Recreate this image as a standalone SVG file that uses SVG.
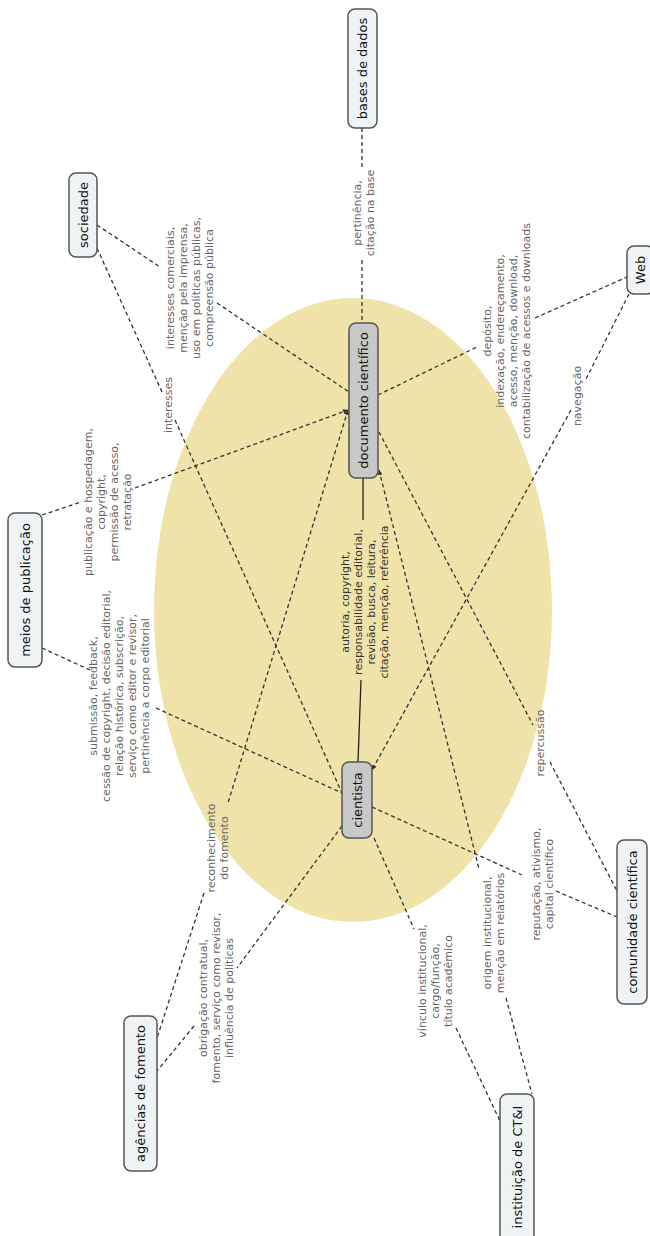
<svg xmlns="http://www.w3.org/2000/svg" width="650" height="1236" viewBox="0 0 650 1236">
<defs>
<marker id="ah" viewBox="0 0 6 6" refX="6" refY="3" markerWidth="5" markerHeight="5" orient="auto-start-reverse" markerUnits="userSpaceOnUse">
<path d="M0,0 L6,3 L0,6 z" fill="#333"/>
</marker>
<style>
.node rect{stroke:#555;stroke-width:1.5}
.outer rect{fill:#eef4f6}
.inner rect{fill:#c8c8c8}
.node text{font-family:"DejaVu Sans","Liberation Sans",sans-serif;font-size:13px;fill:#111;text-anchor:middle}
.lbl{font-family:"DejaVu Sans","Liberation Sans",sans-serif;font-size:11px;fill:#666;text-anchor:middle}
.lbl.c{fill:#333}
.e{fill:none;stroke:#333;stroke-width:1.3;stroke-dasharray:4 3}
.s{fill:none;stroke:#222;stroke-width:1.3}
</style>
</defs>
<rect width="650" height="1236" fill="#fff"/>
<ellipse cx="353" cy="610" rx="199" ry="312" fill="#efe3aa"/>

<g id="connectors">
<!-- bases -> documento -->
<line class="e" x1="362" y1="128" x2="362" y2="167"/>
<line class="e" x1="362" y1="260" x2="362" y2="323"/>
<!-- sociedade -> documento -->
<line class="e" x1="97" y1="225" x2="160" y2="267"/>
<line class="e" x1="217" y1="303" x2="349" y2="392"/>
<!-- sociedade -> cientista -->
<line class="e" x1="97" y1="248" x2="162" y2="392"/>
<line class="e" x1="175" y1="420" x2="342" y2="793"/>
<!-- documento -> Web -->
<line class="e" x1="378" y1="395" x2="477" y2="347"/>
<line class="e" x1="535" y1="318" x2="627" y2="277"/>
<!-- Web -> cientista -->
<line class="e" x1="629" y1="294" x2="585" y2="381"/>
<line class="e" x1="571" y1="410" x2="372" y2="770" marker-end="url(#ah)"/>
<!-- meios -> documento -->
<line class="e" x1="42" y1="515" x2="81" y2="502"/>
<line class="e" x1="135" y1="488" x2="348" y2="410" marker-end="url(#ah)"/>
<!-- meios -> cientista -->
<line class="e" x1="42" y1="648" x2="90" y2="670"/>
<line class="e" x1="156" y1="708" x2="342" y2="793"/>
<!-- documento - cientista -->
<line class="s" x1="363" y1="478" x2="363" y2="520"/>
<line class="s" x1="361" y1="680" x2="358" y2="762"/>
<!-- documento -> agencias (reconhecimento) -->
<line class="e" x1="348" y1="410" x2="228" y2="803" marker-start="url(#ah)"/>
<line class="e" x1="204" y1="893" x2="157" y2="1038"/>
<!-- cientista -> agencias -->
<line class="e" x1="342" y1="826" x2="237" y2="968"/>
<line class="e" x1="194" y1="1026" x2="157" y2="1071"/>
<!-- cientista -> instituicao -->
<line class="e" x1="374" y1="838" x2="414" y2="929"/>
<line class="e" x1="456" y1="1028" x2="500" y2="1121"/>
<!-- documento -> instituicao -->
<line class="e" x1="379" y1="470" x2="479" y2="869" marker-start="url(#ah)"/>
<line class="e" x1="506" y1="998" x2="532" y2="1094"/>
<!-- documento -> comunidade -->
<line class="e" x1="379" y1="432" x2="533" y2="725"/>
<line class="e" x1="550" y1="762" x2="617" y2="891"/>
<!-- cientista -> comunidade -->
<line class="e" x1="372" y1="807" x2="522" y2="875"/>
<line class="e" x1="556" y1="891" x2="617" y2="917"/>
</g>

<g id="labels">
<text class="lbl" transform="translate(363,213) rotate(-90)"><tspan x="0" y="-2.5">pertinência,</tspan><tspan x="0" y="10.5">citação na base</tspan></text>
<text class="lbl" transform="translate(189,288) rotate(-90)"><tspan x="0" y="-15.5">interesses comerciais,</tspan><tspan x="0" y="-2.5">menção pela imprensa,</tspan><tspan x="0" y="10.5">uso em políticas públicas,</tspan><tspan x="0" y="23.5">compreensão pública</tspan></text>
<text class="lbl" transform="translate(168,405) rotate(-90)"><tspan x="0" y="4">interesses</tspan></text>
<text class="lbl" transform="translate(506,331) rotate(-90)"><tspan x="0" y="-15.5">depósito,</tspan><tspan x="0" y="-2.5">indexação, endereçamento,</tspan><tspan x="0" y="10.5">acesso, menção, download,</tspan><tspan x="0" y="23.5">contabilização de acessos e downloads</tspan></text>
<text class="lbl" transform="translate(577,396) rotate(-90)"><tspan x="0" y="4">navegação</tspan></text>
<text class="lbl" transform="translate(107,502) rotate(-90)"><tspan x="0" y="-15.5">publicação e hospedagem,</tspan><tspan x="0" y="-2.5">copyright,</tspan><tspan x="0" y="10.5">permissão de acesso,</tspan><tspan x="0" y="23.5">retratação</tspan></text>
<text class="lbl" transform="translate(119,696) rotate(-90)"><tspan x="0" y="-22">submissão, feedback,</tspan><tspan x="0" y="-9">cessão de copyright, decisão editorial,</tspan><tspan x="0" y="4">relação histórica, subscrição,</tspan><tspan x="0" y="17">serviço como editor e revisor,</tspan><tspan x="0" y="30">pertinência a corpo editorial</tspan></text>
<text class="lbl c" transform="translate(364,602) rotate(-90)"><tspan x="0" y="-15.5">autoria, copyright,</tspan><tspan x="0" y="-2.5">responsabilidade editorial,</tspan><tspan x="0" y="10.5">revisão, busca, leitura,</tspan><tspan x="0" y="23.5">citação, menção, referência</tspan></text>
<text class="lbl" transform="translate(540,743) rotate(-90)"><tspan x="0" y="4">repercussão</tspan></text>
<text class="lbl" transform="translate(217,848) rotate(-90)"><tspan x="0" y="-2.5">reconhecimento</tspan><tspan x="0" y="10.5">do fomento</tspan></text>
<text class="lbl" transform="translate(216,998) rotate(-90)"><tspan x="0" y="-9">obrigação contratual,</tspan><tspan x="0" y="4">fomento, serviço como revisor,</tspan><tspan x="0" y="17">influência de políticas</tspan></text>
<text class="lbl" transform="translate(435,981) rotate(-90)"><tspan x="0" y="-9">vínculo institucional,</tspan><tspan x="0" y="4">cargo/função,</tspan><tspan x="0" y="17">título acadêmico</tspan></text>
<text class="lbl" transform="translate(493,933) rotate(-90)"><tspan x="0" y="-2.5">origem institucional,</tspan><tspan x="0" y="10.5">menção em relatórios</tspan></text>
<text class="lbl" transform="translate(542,884) rotate(-90)"><tspan x="0" y="-2.5">reputação, ativismo,</tspan><tspan x="0" y="10.5">capital científico</tspan></text>
</g>

<g id="n-bases" class="node outer"><rect x="348" y="9" width="29" height="119" rx="7"/><text transform="translate(362.5,68.5) rotate(-90)" y="4.5">bases de dados</text></g>
<g id="n-sociedade" class="node outer"><rect x="69" y="173" width="28" height="84" rx="7"/><text transform="translate(83,215) rotate(-90)" y="4.5">sociedade</text></g>
<g id="n-web" class="node outer"><rect x="627" y="246" width="27" height="48" rx="7"/><text transform="translate(640.5,270) rotate(-90)" y="4.5">Web</text></g>
<g id="n-documento" class="node inner"><rect x="349" y="323" width="29" height="155" rx="7"/><text transform="translate(363.5,400.5) rotate(-90)" y="4.5">documento científico</text></g>
<g id="n-meios" class="node outer"><rect x="8" y="513" width="34" height="154" rx="7"/><text transform="translate(25,590) rotate(-90)" y="4.5">meios de publicação</text></g>
<g id="n-cientista" class="node inner"><rect x="342" y="762" width="30" height="76" rx="7"/><text transform="translate(357,800) rotate(-90)" y="4.5">cientista</text></g>
<g id="n-agencias" class="node outer"><rect x="124" y="1016" width="33" height="155" rx="7"/><text transform="translate(140.5,1093.5) rotate(-90)" y="4.5">agências de fomento</text></g>
<g id="n-instituicao" class="node outer"><rect x="500" y="1094" width="34" height="150" rx="7"/><text transform="translate(517,1167) rotate(-90)" y="4.5">instituição de CT&amp;I</text></g>
<g id="n-comunidade" class="node outer"><rect x="617" y="840" width="30" height="164" rx="7"/><text transform="translate(632,922) rotate(-90)" y="4.5">comunidade científica</text></g>
</svg>
